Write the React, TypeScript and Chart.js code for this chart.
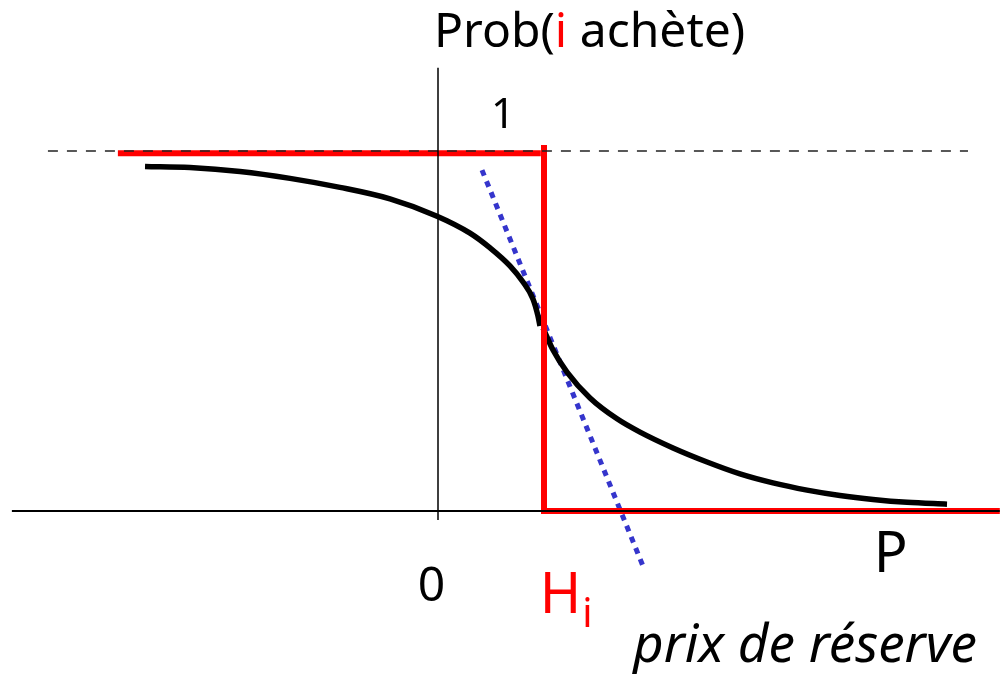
import React, { useEffect, useRef } from "react";
import { Chart, registerables } from "chart.js";

Chart.register(...registerables);

// Black curve: probability that i buys, as a function of price P
const curvePriceUpper = [-2.764, -2.340, -1.868, -1.396, -0.925, -0.453, -0.009, 0.302, 0.491, 0.679, 0.802, 0.896, 0.943, 0.962];
const curveProbUpper = [0.957, 0.954, 0.943, 0.924, 0.899, 0.867, 0.819, 0.772, 0.731, 0.681, 0.636, 0.589, 0.542, 0.514];
const curvePriceLower = [0.991, 1.085, 1.217, 1.434, 1.689, 1.906, 2.217, 2.538, 2.849, 3.160, 3.481, 3.792, 4.104, 4.425, 4.802];
const curveProbLower = [0.508, 0.447, 0.386, 0.314, 0.256, 0.219, 0.175, 0.136, 0.103, 0.078, 0.058, 0.043, 0.032, 0.024, 0.019];

// Red step function (reservation price H_i = 1)
const stepTopPrice = [-3.02, 0.97];
const stepTopProb = [0.994, 0.994];
const stepBottomPrice = [1.0, 1.0, 5.30];
const stepBottomProb = [1.017, 0.0, 0.0];

// Blue dotted tangent
const tangentPrice = [0.415, 1.934];
const tangentProb = [0.947, -0.153];

// Dashed reference line at probability 1
const refPrice = [-3.68, 5.0];
const refProb = [1.0, 1.0];

// Axes
const xAxisPrice = [-4.02, 5.30];
const xAxisProb = [0, 0];
const yAxisPrice = [0, 0];
const yAxisProb = [1.231, -0.025];

const zip = (xs: number[], ys: number[]) => xs.map((x, i) => ({ x, y: ys[i] }));

const FONT = "'Noto Sans', 'DejaVu Sans', sans-serif";

const labelsPlugin = {
  id: "labels",
  afterDraw(chart: any) {
    const ctx = chart.ctx as CanvasRenderingContext2D;
    const xs = chart.scales.x;
    const ys = chart.scales.y;
    const px = (v: number) => xs.getPixelForValue(v);
    const py = (v: number) => ys.getPixelForValue(v);
    ctx.save();
    ctx.textBaseline = "alphabetic";
    ctx.textAlign = "left";

    // Title "Prob(i achète)"
    ctx.font = `48px ${FONT}`;
    let x = px(0) - 4;
    const yb = py(1.29);
    const parts: [string, string][] = [["Prob(", "#000"], ["i", "#ff0000"], [" achète)", "#000"]];
    for (const [t, c] of parts) {
      ctx.fillStyle = c;
      ctx.fillText(t, x, yb);
      x += ctx.measureText(t).width;
    }

    // "1"
    ctx.fillStyle = "#000";
    ctx.font = `42px ${FONT}`;
    ctx.fillText("1", px(0.50), py(1.065));

    // "0"
    ctx.font = `48px ${FONT}`;
    ctx.fillText("0", px(-0.19), py(-0.25));

    // "P"
    ctx.font = `56px ${FONT}`;
    ctx.fillText("P", px(4.11), py(-0.17));

    // "H_i"
    ctx.fillStyle = "#ff0000";
    ctx.font = `56px ${FONT}`;
    ctx.fillText("H", px(0.96), py(-0.283));
    const hw = ctx.measureText("H").width;
    ctx.font = `40px ${FONT}`;
    ctx.fillText("i", px(0.96) + hw + 1, py(-0.322));

    // "prix de réserve"
    ctx.fillStyle = "#000";
    ctx.font = `italic 53px ${FONT}`;
    ctx.fillText("prix de réserve", px(1.84), py(-0.42));
    ctx.restore();
  },
};

export default function App() {
  const ref = useRef<HTMLCanvasElement | null>(null);
  useEffect(() => {
    if (!ref.current) return;
    const base = { pointRadius: 0, fill: false, showLine: true };
    const chart = new Chart(ref.current, {
      type: "scatter",
      data: {
        datasets: [
          { ...base, data: zip(xAxisPrice, xAxisProb), borderColor: "#000", borderWidth: 2 },
          { ...base, data: zip(yAxisPrice, yAxisProb), borderColor: "#000", borderWidth: 1.5 },
          { ...base, data: zip(refPrice, refProb), borderColor: "#222", borderWidth: 1.5, borderDash: [10, 9] },
          { ...base, data: zip(stepTopPrice, stepTopProb), borderColor: "#ff0000", borderWidth: 6, borderCapStyle: "butt" },
          { ...base, data: zip(stepBottomPrice, stepBottomProb), borderColor: "#ff0000", borderWidth: 6, borderJoinStyle: "miter" },
          { ...base, data: zip(curvePriceUpper, curveProbUpper), borderColor: "#000", borderWidth: 5.5, cubicInterpolationMode: "monotone" },
          { ...base, data: zip(curvePriceLower, curveProbLower), borderColor: "#000", borderWidth: 5.5, cubicInterpolationMode: "monotone" },
          { ...base, data: zip(tangentPrice, tangentProb), borderColor: "#3535cc", borderWidth: 5, borderDash: [6, 6] },
        ] as any,
      },
      options: {
        responsive: false,
        animation: false,
        layout: { padding: 0 },
        plugins: { legend: { display: false }, tooltip: { enabled: false } },
        scales: {
          x: { type: "linear", display: false, min: -438 / 106, max: 566 / 106 },
          y: { type: "linear", display: false, min: -163 / 360, max: 511 / 360 },
        },
      },
      plugins: [labelsPlugin],
    });
    return () => chart.destroy();
  }, []);
  return (
    <div style={{ position: "fixed", left: 0, top: 0, width: 1004, height: 674, background: "#fff" }}>
      <canvas ref={ref} width={1004} height={674} />
    </div>
  );
}
